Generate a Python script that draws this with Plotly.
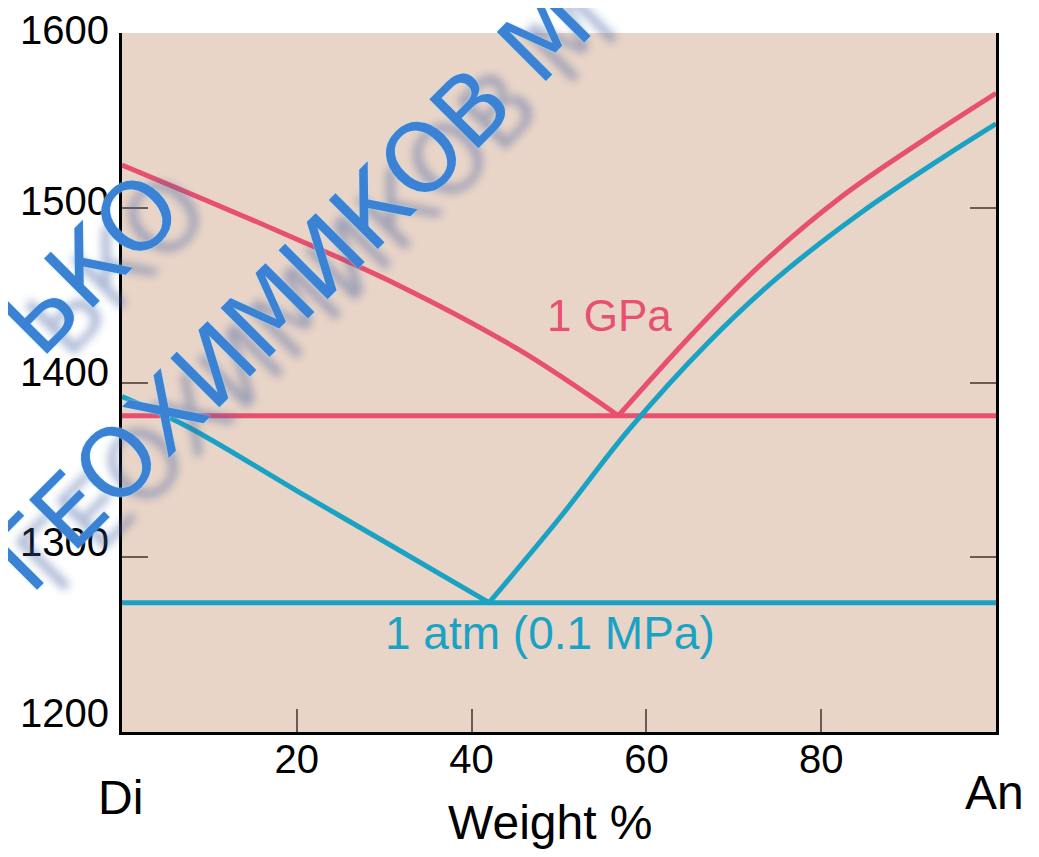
import plotly.graph_objects as go

# ---------------- data ----------------
# 1 atm (0.1 MPa) system Di-An
atm_di_liq_x = [0, 7.4, 20, 30, 42]
atm_di_liq_T = [1392, 1375, 1338, 1309, 1274]
atm_an_liq_x = [42, 50, 58, 67, 75, 84.5, 94, 100]
atm_an_liq_T = [1274, 1322, 1373, 1422.5, 1460, 1497, 1529, 1548]
atm_solidus_x = [0, 100]
atm_solidus_T = [1274, 1274]

# 1 GPa system Di-An
gpa_di_liq_x = [0, 17.7, 31.5, 45.5, 56.8]
gpa_di_liq_T = [1524.5, 1487, 1456, 1418.5, 1381]
gpa_an_liq_x = [56.8, 65.3, 73, 82.5, 92.1, 100]
gpa_an_liq_T = [1381, 1428, 1467, 1507, 1540, 1565.5]
gpa_solidus_x = [0, 100]
gpa_solidus_T = [1381, 1381]

x_tick_vals = [20, 40, 60, 80]
y_label_vals = [1200, 1300, 1400, 1500, 1600]
y_inner_ticks = [1300, 1400, 1500]

RED = "#E8506F"
CYAN = "#1AA2C4"
BG = "#E9D5C8"
FONT = "Liberation Sans, Arial, Helvetica, sans-serif"

fig = go.Figure()

def add_line(x, y, color, smooth):
    fig.add_trace(go.Scatter(
        x=x, y=y, mode="lines",
        line=dict(color=color, width=5, shape="spline" if smooth else "linear",
                  smoothing=1.0),
        hoverinfo="skip", showlegend=False, cliponaxis=True))

add_line(gpa_solidus_x, gpa_solidus_T, RED, False)
add_line(gpa_di_liq_x, gpa_di_liq_T, RED, True)
add_line(gpa_an_liq_x, gpa_an_liq_T, RED, True)
add_line(atm_solidus_x, atm_solidus_T, CYAN, False)
add_line(atm_di_liq_x, atm_di_liq_T, CYAN, True)
add_line(atm_an_liq_x, atm_an_liq_T, CYAN, True)

# invisible trace to carry the label-only overlay axis
fig.add_trace(go.Scatter(x=[0], y=[1300], yaxis="y2", mode="markers",
                         marker=dict(opacity=0), hoverinfo="skip",
                         showlegend=False))

# page is offset by the 8px body margin
W, H = 1023, 841
L, R, T, B = 114, 35, 25, 117
PL, PT, PW, PH = 122, 732, 874, 699   # plot area in page pixels (left, bottom, w, h)

fig.update_layout(
    width=W, height=H,
    margin=dict(l=L, r=R, t=T, b=B, pad=0, autoexpand=False),
    paper_bgcolor="white",
    plot_bgcolor=BG,
    font=dict(family=FONT, color="black"),
    xaxis=dict(range=[0, 100], tickvals=x_tick_vals,
               ticktext=[str(v) for v in x_tick_vals],
               ticks="inside", ticklen=23, tickwidth=2, tickcolor="#6B5B52",
               showline=True, linecolor="black", linewidth=3,
               showgrid=False, zeroline=False, automargin=False,
               tickfont=dict(size=40, family=FONT), ticklabelstandoff=-10),
    # main temperature axis: frame and inner ticks
    yaxis=dict(range=[1200, 1600], tickvals=y_inner_ticks,
               showticklabels=False,
               ticks="inside", ticklen=26, tickwidth=2, tickcolor="#6B5B52",
               showline=True, linecolor="black", linewidth=3,
               mirror="ticks", showgrid=False, zeroline=False, automargin=False),
    # label axis (labels in the original sit slightly above their ticks)
    yaxis2=dict(range=[1191.2, 1600.6], overlaying="y", side="left",
                tickvals=y_label_vals,
                ticktext=[str(v) for v in y_label_vals],
                ticks="", showline=False, showgrid=False, zeroline=False,
                automargin=False, tickfont=dict(size=40, family=FONT),
                ticklabelstandoff=12, ticklabelshift=-4,
                ticklabeloverflow="allow"),
)

def px2paper(px, py):
    return (px - PL) / PW, (PT - py) / PH

ann = []
# curve labels
ann.append(dict(x=55.8, y=1438.5, xref="x", yref="y", text="1 GPa",
                showarrow=False, font=dict(size=44, color=RED, family=FONT)))
ann.append(dict(x=49, y=1256.5, xref="x", yref="y", text="1 atm (0.1 MPa)",
                showarrow=False, font=dict(size=46, color=CYAN, family=FONT)))
# end members and axis title
dx, dy = px2paper(120, 797)
ann.append(dict(x=dx, y=dy, xref="paper", yref="paper", text="Di",
                showarrow=False, xanchor="center", yanchor="middle",
                font=dict(size=48, family=FONT)))
ax_, ay_ = px2paper(994, 792)
ann.append(dict(x=ax_, y=ay_, xref="paper", yref="paper", text="An",
                showarrow=False, xanchor="center", yanchor="middle",
                font=dict(size=48, family=FONT)))
wx, wy = px2paper(550, 823)
ann.append(dict(x=wx, y=wy, xref="paper", yref="paper", text="Weight %",
                showarrow=False, xanchor="center", yanchor="middle",
                font=dict(size=48, family=FONT)))

# watermark (partly outside the picture, as in the reference)
wm_font = dict(size=95, family="DejaVu Sans", color="#3C82D4",
               shadow="0px 0px 2px #A5E6FF, 18px 20px 8px rgba(70,100,165,0.45)")
x1, y1 = px2paper(90, 264)
ann.append(dict(x=x1, y=y1, xref="paper", yref="paper", text="ЬКО",
                textangle=-45, showarrow=False, font=wm_font,
                xanchor="center", yanchor="middle"))
x2, y2 = px2paper(290, 290)
ann.append(dict(x=x2, y=y2, xref="paper", yref="paper", text="ГЕОХИМИКОВ М",
                textangle=-45, showarrow=False, font=wm_font,
                xanchor="center", yanchor="middle"))

fig.update_layout(annotations=ann)

fig.write_html("out.html")
